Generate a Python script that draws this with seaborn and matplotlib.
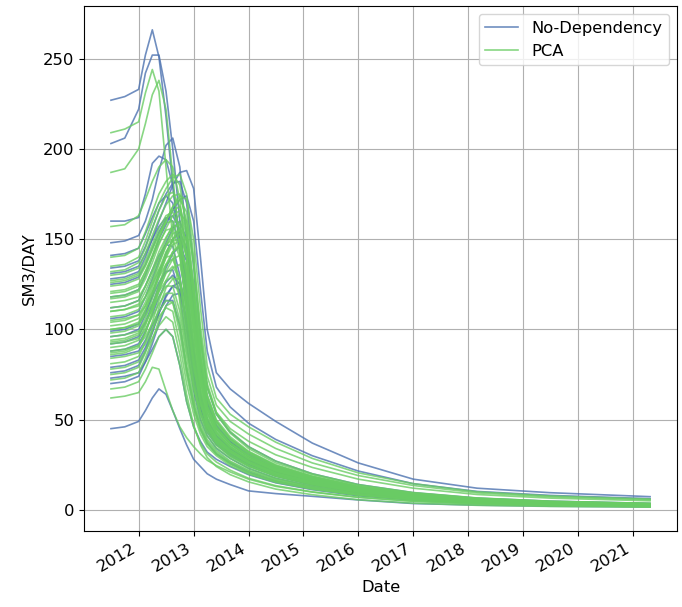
import matplotlib
matplotlib.use("Agg")
import matplotlib.pyplot as plt
import matplotlib.dates as mdates
from matplotlib.lines import Line2D
import pandas as pd
import seaborn as sns

# Sample dates shared by every production profile
knot_dates = [
    "2011-07-01", "2011-10-01", "2012-01-01", "2012-02-15", "2012-04-01",
    "2012-05-15", "2012-07-01", "2012-08-15", "2012-10-01", "2012-11-15",
    "2013-01-01", "2013-02-15", "2013-04-01", "2013-06-01", "2013-09-01",
    "2014-01-01", "2014-07-01", "2015-03-01", "2016-01-01", "2017-01-01",
    "2018-03-01", "2019-07-01", "2021-04-25",
]

# Rate profiles (SM3/DAY), one row per realisation, model without dependency
no_dependency_runs = [
    [227, 229, 233, 252, 266, 251, 218, 180, 145, 110, 80, 58, 46, 38, 32, 26, 20, 15, 10.5, 7.5, 5.2, 3.8, 2.8],
    [203, 206, 222, 242, 252, 252, 232, 200, 160, 120, 88, 63, 50, 41, 34, 28, 21.5, 16, 11, 7.8, 5.4, 4, 3],
    [160, 160, 162, 175, 192, 196, 194, 180, 150, 115, 85, 62, 49, 41, 34, 28, 21, 16, 11, 7.6, 5.3, 3.9, 2.9],
    [148, 149, 152, 160, 172, 188, 202, 206, 190, 150, 110, 78, 58, 46, 37, 30, 23, 17, 12, 8.2, 5.6, 4.1, 3],
    [128, 129, 132, 140, 150, 160, 170, 180, 187, 188, 178, 140, 100, 76, 67, 59, 49, 37, 26, 17, 12, 9.5, 7.3],
    [141, 142, 145, 153, 162, 170, 174, 170, 150, 115, 82, 60, 47, 39, 33, 27, 20.5, 15.5, 10.8, 7.5, 5.2, 3.8, 2.8],
    [134, 135, 138, 146, 156, 166, 175, 181, 182, 170, 135, 95, 68, 53, 43, 35, 27, 20, 14, 9.5, 6.5, 4.8, 3.6],
    [118, 119, 122, 130, 140, 150, 158, 166, 172, 174, 160, 122, 88, 68, 57, 48, 39, 30, 21.5, 14.5, 10.2, 8, 6.2],
    [112, 113, 116, 124, 133, 141, 147, 146, 130, 100, 72, 54, 43, 36, 30, 24.5, 19, 14, 9.8, 6.8, 4.7, 3.4, 2.5],
    [106, 107, 110, 118, 128, 138, 148, 156, 160, 150, 118, 82, 60, 47, 38, 31, 24, 18, 12.5, 8.5, 5.8, 4.3, 3.2],
    [99, 100, 103, 110, 118, 126, 132, 133, 120, 92, 66, 50, 41, 34, 28.5, 23, 17.5, 13, 9, 6.3, 4.4, 3.2, 2.4],
    [92, 93, 96, 104, 114, 124, 134, 142, 146, 138, 110, 78, 57, 45, 36.5, 29.5, 22.5, 17, 12, 8.2, 5.6, 4.1, 3],
    [85, 86, 88, 94, 102, 110, 116, 116, 102, 78, 58, 45, 37, 31, 26, 21, 16, 12, 8.3, 5.8, 4, 2.9, 2.2],
    [79, 80, 83, 90, 99, 109, 118, 124, 126, 114, 88, 64, 49, 40, 33, 27, 20.5, 15.5, 10.8, 7.4, 5.1, 3.7, 2.7],
    [73, 74, 76, 82, 89, 96, 100, 96, 80, 60, 46, 38, 32, 28, 24, 19.5, 15, 11.2, 7.8, 5.4, 3.7, 2.7, 2],
    [70, 71, 74, 82, 92, 103, 113, 119, 120, 106, 80, 58, 45, 37, 31, 25, 19, 14.2, 10, 6.9, 4.8, 3.5, 2.6],
    [45, 46, 49, 55, 62, 67, 64, 55, 45, 36, 28, 24, 20, 17, 14, 10.5, 9, 7.5, 5.5, 3.5, 2.6, 2, 1.6],
    [125, 126, 129, 136, 145, 154, 161, 163, 155, 125, 90, 65, 50, 41, 34, 27.5, 21, 15.8, 11, 7.6, 5.2, 3.8, 2.8],
    [96, 97, 100, 108, 119, 131, 142, 150, 154, 145, 115, 80, 59, 46, 37.5, 30, 23, 17.2, 12, 8.2, 5.6, 4.1, 3],
    [88, 89, 92, 99, 108, 118, 126, 130, 125, 102, 75, 56, 45, 37, 31, 25, 19, 14.2, 10, 6.9, 4.8, 3.5, 2.6],
    [131, 132, 135, 142, 150, 157, 162, 160, 145, 112, 80, 59, 47, 39, 32.5, 26.5, 20.5, 15.3, 10.7, 7.4, 5.1, 3.7, 2.7],
    [76, 77, 80, 88, 98, 109, 119, 124, 122, 105, 78, 57, 45, 37, 30.5, 24.5, 18.7, 14, 9.8, 6.8, 4.7, 3.4, 2.5],
]

# Rate profiles (SM3/DAY), one row per realisation, PCA model
pca_runs = [
    [209, 211, 215, 231, 244, 232, 190, 150, 115, 88, 68, 54, 45, 38, 32, 26, 20, 15, 10.5, 7.3, 5, 3.7, 2.7],
    [187, 189, 200, 214, 230, 238, 222, 185, 145, 108, 80, 60, 48, 40, 33, 27, 21, 15.5, 10.8, 7.5, 5.2, 3.8, 2.8],
    [157, 158, 163, 172, 182, 190, 194, 190, 172, 140, 105, 75, 56, 45, 37, 30, 23, 17.3, 12, 8.3, 5.7, 4.2, 3.1],
    [140, 141, 145, 154, 165, 175, 182, 186, 180, 155, 118, 84, 62, 49, 39.5, 32, 24.5, 18.4, 12.8, 8.8, 6, 4.4, 3.3],
    [135, 136, 140, 149, 160, 170, 178, 184, 186, 175, 140, 98, 70, 54, 43.5, 35, 27, 20, 14, 9.6, 6.6, 4.8, 3.6],
    [130, 131, 134, 142, 152, 161, 169, 174, 175, 160, 125, 88, 64, 50, 40.5, 32.5, 25, 18.7, 13, 9, 6.2, 4.5, 3.4],
    [127, 128, 131, 138, 147, 156, 163, 165, 155, 125, 92, 67, 51, 42, 34.5, 28, 21.5, 16.1, 11.3, 7.8, 5.4, 3.9, 2.9],
    [124, 125, 128, 135, 144, 153, 161, 166, 168, 155, 122, 86, 63, 49, 39.5, 32, 24.5, 18.4, 12.8, 8.8, 6, 4.4, 3.3],
    [121, 122, 125, 132, 140, 148, 155, 156, 142, 112, 82, 60, 47, 39, 32, 26, 20, 15, 10.5, 7.3, 5, 3.6, 2.7],
    [118, 119, 122, 130, 140, 150, 160, 168, 172, 165, 135, 95, 68, 53, 42.5, 34, 26, 19.5, 13.6, 9.3, 6.4, 4.7, 3.5],
    [115, 116, 118, 124, 132, 140, 147, 150, 140, 112, 80, 59, 47, 39, 32, 26, 20, 15, 10.5, 7.2, 5, 3.6, 2.7],
    [112, 113, 116, 124, 133, 143, 151, 157, 158, 142, 110, 78, 58, 46, 37, 30, 23, 17.2, 12, 8.3, 5.7, 4.2, 3.1],
    [110, 111, 113, 118, 125, 133, 140, 141, 126, 96, 70, 53, 43, 36, 29.5, 24, 18.5, 13.8, 9.7, 6.7, 4.6, 3.4, 2.5],
    [107, 108, 111, 118, 127, 137, 146, 153, 155, 140, 108, 77, 57, 45, 36.5, 29.5, 22.5, 17, 11.8, 8.1, 5.6, 4.1, 3],
    [105, 106, 108, 113, 121, 129, 136, 139, 128, 100, 73, 55, 44, 37, 30.5, 24.5, 19, 14.2, 10, 6.9, 4.7, 3.5, 2.6],
    [102, 103, 106, 113, 123, 133, 143, 149, 150, 132, 100, 72, 54, 43, 35, 28.5, 22, 16.5, 11.5, 7.9, 5.4, 4, 2.9],
    [100, 101, 103, 108, 114, 121, 127, 129, 118, 92, 67, 51, 41, 34.5, 28.5, 23, 17.5, 13.2, 9.2, 6.4, 4.4, 3.2, 2.4],
    [98, 99, 102, 110, 120, 131, 142, 150, 153, 140, 108, 77, 57, 45, 36.5, 29.5, 22.5, 17, 11.8, 8.1, 5.6, 4.1, 3],
    [96, 97, 99, 104, 111, 118, 124, 124, 110, 85, 62, 48, 39, 33, 27, 22, 17, 12.7, 8.9, 6.2, 4.3, 3.1, 2.3],
    [94, 95, 98, 106, 117, 129, 140, 147, 149, 132, 100, 72, 54, 43, 35, 28.5, 22, 16.5, 11.5, 7.9, 5.4, 4, 2.9],
    [92, 93, 95, 100, 107, 114, 120, 120, 105, 80, 59, 46, 38, 32, 26.5, 21.5, 16.5, 12.4, 8.7, 6, 4.1, 3, 2.2],
    [90, 91, 94, 102, 113, 125, 136, 143, 146, 130, 99, 71, 53, 42.5, 34.5, 28, 21.5, 16, 11.2, 7.7, 5.3, 3.9, 2.9],
    [88, 89, 91, 96, 103, 110, 116, 115, 98, 75, 56, 44, 36.5, 31, 25.5, 20.5, 15.8, 11.9, 8.3, 5.7, 3.9, 2.9, 2.1],
    [86, 87, 90, 98, 109, 121, 132, 139, 141, 124, 94, 68, 51, 41, 33.5, 27, 20.5, 15.4, 10.8, 7.4, 5.1, 3.7, 2.8],
    [84, 85, 87, 92, 100, 107, 112, 110, 92, 70, 53, 42, 35, 30, 24.5, 19.8, 15.2, 11.4, 8, 5.5, 3.8, 2.8, 2],
    [81, 82, 85, 93, 104, 116, 127, 134, 136, 118, 90, 65, 49, 39.5, 32, 26, 20, 15, 10.5, 7.2, 5, 3.6, 2.7],
    [78, 79, 82, 88, 95, 102, 107, 104, 86, 64, 47, 36, 29, 24, 19.5, 15.5, 11.5, 8.4, 5.6, 3.7, 2.5, 1.9, 1.5],
    [75, 76, 79, 87, 99, 112, 123, 128, 128, 110, 84, 61, 46, 37, 30, 24.5, 18.8, 14.1, 9.9, 6.8, 4.7, 3.4, 2.5],
    [72, 73, 76, 84, 94, 105, 113, 115, 102, 78, 58, 45, 37, 31, 25.5, 20.5, 15.8, 11.9, 8.3, 5.7, 3.9, 2.9, 2.1],
    [67, 68, 71, 78, 87, 96, 100, 96, 80, 60, 46, 37, 31, 26.5, 22, 17.5, 13.4, 10, 7, 4.8, 3.3, 2.4, 1.8],
    [62, 63, 65, 71, 79, 78, 66, 55, 46, 40, 35, 31, 27.5, 24.5, 21, 17, 13, 9.8, 6.9, 4.7, 3.2, 2.4, 1.8],
    [120, 121, 124, 132, 141, 151, 160, 168, 174, 172, 150, 112, 80, 62, 53, 46, 37.5, 28.5, 20.5, 14.5, 10, 7.7, 6],
    [110, 111, 114, 121, 130, 140, 150, 158, 164, 160, 138, 102, 74, 58, 49, 42, 34, 26, 19, 13.5, 9.4, 7.2, 5.6],
    [100, 101, 104, 111, 120, 130, 140, 150, 156, 150, 125, 92, 68, 54, 45, 38, 30.5, 23.5, 17, 12, 8.5, 6.5, 5],
    [132, 133, 137, 145, 156, 166, 174, 176, 168, 140, 105, 76, 57, 46, 37, 30, 23, 17.3, 12, 8.3, 5.7, 4.2, 3.1],
    [117, 118, 121, 128, 137, 147, 156, 163, 166, 152, 118, 84, 62, 48.5, 39, 31.5, 24, 18, 12.6, 8.7, 6, 4.4, 3.2],
    [104, 105, 108, 115, 125, 136, 147, 155, 160, 148, 115, 82, 60, 47.5, 38.5, 31, 23.7, 17.8, 12.4, 8.5, 5.9, 4.3, 3.2],
    [93, 94, 97, 103, 112, 122, 131, 135, 128, 104, 77, 58, 46, 38, 31, 25, 19.2, 14.4, 10.1, 7, 4.8, 3.5, 2.6],
    [126, 127, 130, 136, 145, 153, 159, 160, 148, 118, 86, 63, 49, 40, 33, 26.5, 20.3, 15.2, 10.6, 7.3, 5, 3.7, 2.7],
    [87, 88, 91, 98, 110, 123, 135, 143, 147, 134, 104, 75, 56, 44, 35.5, 28.5, 21.8, 16.4, 11.5, 7.9, 5.4, 4, 2.9],
]

series_labels = ["No-Dependency", "PCA"]
series_colors = ["#4C72B0", "#6ACC64"]

plt.rcParams["font.size"] = 11.8


def to_long(runs, label):
    dates = pd.to_datetime(knot_dates)
    frames = []
    for i, run in enumerate(runs):
        frames.append(pd.DataFrame({"Date": dates, "SM3/DAY": run,
                                    "run": i, "model": label}))
    return pd.concat(frames, ignore_index=True)


fig = plt.figure(figsize=(6.82, 6.07), dpi=100)
ax = fig.add_axes([0.1232, 0.1252, 0.8695, 0.865])

for runs, label, color in zip([no_dependency_runs, pca_runs], series_labels, series_colors):
    df = to_long(runs, label)
    sns.lineplot(data=df, x="Date", y="SM3/DAY", units="run", estimator=None,
                 color=color, linewidth=1.2, alpha=0.8, legend=False, ax=ax)

ax.grid(True, color="#b0b0b0", linewidth=0.8)
ax.xaxis.set_major_locator(mdates.YearLocator())
ax.xaxis.set_major_formatter(mdates.DateFormatter("%Y"))
for lbl in ax.get_xticklabels():
    lbl.set_rotation(30)
    lbl.set_horizontalalignment("right")
ax.set_xlabel("Date")
ax.set_ylabel("SM3/DAY")

handles = [Line2D([0], [0], color=c, linewidth=1.2, alpha=0.8) for c in series_colors]
ax.legend(handles, series_labels, loc="upper right")

fig.savefig("out.png", dpi=100)
